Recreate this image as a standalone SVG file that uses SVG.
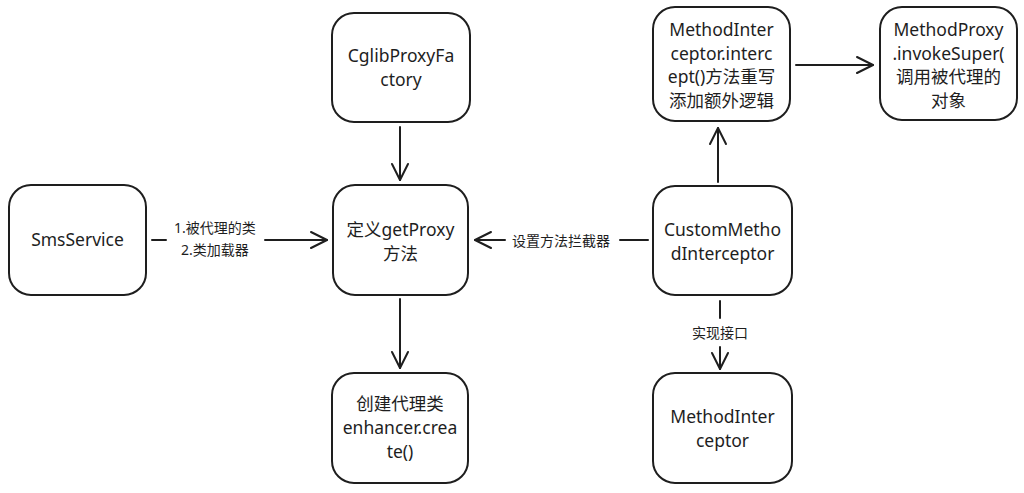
<svg xmlns="http://www.w3.org/2000/svg" width="1024" height="493" viewBox="0 0 1024 493">
<defs>
<style>
.box{fill:#fff;stroke:#1e1e1e;stroke-width:2}
.t{font-family:"Noto Sans","Noto Sans CJK SC",sans-serif;font-size:17.5px;fill:#1e1e1e;text-anchor:middle}
.lbl{font-family:"Noto Sans","Noto Sans CJK SC",sans-serif;font-size:14px;fill:#1e1e1e;text-anchor:middle}
.c{stroke:#1e1e1e;stroke-width:2;fill:none;stroke-linecap:round}
</style>
<marker id="ah" markerUnits="userSpaceOnUse" markerWidth="22" markerHeight="22" refX="18" refY="11" orient="auto">
<path d="M2,3 L18,11 L2,19" fill="none" stroke="#1e1e1e" stroke-width="2" stroke-linecap="round" stroke-linejoin="round"/>
</marker>
</defs>
<rect width="1024" height="493" fill="#fff"/>

<g id="connectors">
<line class="c" x1="152" y1="240" x2="166" y2="240"/>
<line class="c" x1="265" y1="240" x2="327" y2="240" marker-end="url(#ah)"/>
<text class="lbl" x="215" y="233">1.被代理的类</text>
<text class="lbl" x="215" y="255">2.类加载器</text>
<line class="c" x1="400" y1="127" x2="400" y2="180" marker-end="url(#ah)"/>
<line class="c" x1="400" y1="299" x2="400" y2="368" marker-end="url(#ah)"/>
<line class="c" x1="648" y1="240" x2="620" y2="240"/>
<line class="c" x1="505" y1="240" x2="475" y2="240" marker-end="url(#ah)"/>
<text class="lbl" x="561" y="246">设置方法拦截器</text>
<line class="c" x1="718" y1="182" x2="718" y2="128" marker-end="url(#ah)"/>
<line class="c" x1="796" y1="65" x2="873" y2="65" marker-end="url(#ah)"/>
<line class="c" x1="720" y1="301" x2="720" y2="318"/>
<text class="lbl" x="720" y="338">实现接口</text>
<line class="c" x1="720" y1="347" x2="720" y2="369" marker-end="url(#ah)"/>
</g>

<g id="smsService">
<rect class="box" x="9" y="185" width="137" height="110" rx="22"/>
<text class="t" x="77.5" y="246">SmsService</text>
</g>

<g id="getProxy">
<rect class="box" x="333" y="185" width="135" height="110" rx="22"/>
<text class="t" x="400.5" y="236">定义getProxy</text>
<text class="t" x="400.5" y="260">方法</text>
</g>

<g id="cglibProxyFactory">
<rect class="box" x="332" y="13" width="138" height="109" rx="22"/>
<text class="t" x="401" y="62">CglibProxyFa</text>
<text class="t" x="401" y="86">ctory</text>
</g>

<g id="createProxy">
<rect class="box" x="332" y="373" width="136" height="110" rx="22"/>
<text class="t" x="400" y="410">创建代理类</text>
<text class="t" x="400" y="434">enhancer.crea</text>
<text class="t" x="400" y="458">te()</text>
</g>

<g id="customMethodInterceptor">
<rect class="box" x="653" y="186" width="139" height="109" rx="22"/>
<text class="t" x="722.5" y="236">CustomMetho</text>
<text class="t" x="722.5" y="260">dInterceptor</text>
</g>

<g id="methodInterceptorIntercept">
<rect class="box" x="653" y="7" width="137" height="114" rx="22"/>
<text class="t" x="721.5" y="36">MethodInter</text>
<text class="t" x="721.5" y="60">ceptor.interc</text>
<text class="t" x="721.5" y="83">ept()方法重写</text>
<text class="t" x="721.5" y="107">添加额外逻辑</text>
</g>

<g id="methodProxy">
<rect class="box" x="880" y="7" width="137" height="113" rx="22"/>
<text class="t" x="948.5" y="36">MethodProxy</text>
<text class="t" x="948.5" y="60">.invokeSuper(</text>
<text class="t" x="948.5" y="83">调用被代理的</text>
<text class="t" x="948.5" y="107">对象</text>
</g>

<g id="methodInterceptor">
<rect class="box" x="653" y="373" width="139" height="110" rx="22"/>
<text class="t" x="722.5" y="423">MethodInter</text>
<text class="t" x="722.5" y="447">ceptor</text>
</g>
</svg>
